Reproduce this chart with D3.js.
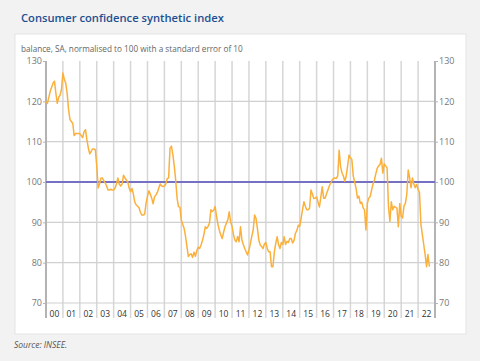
<!DOCTYPE html>
<html>
<head>
<meta charset="utf-8">
<script src="https://cdn.jsdelivr.net/npm/d3@7"></script>
<style>
  body { margin: 0; background: #f2f2f2; }
  svg { display: block; font-family: "Open Sans", sans-serif; }
</style>
</head>
<body>
<div id="chart"></div>
<script>
// monthly values, Jan 2000 .. Sep 2022
const firstYear = 2000;
const values = [
  120, 119.5, 121, 122.5, 123.5, 124.5, 125, 122, 119.5, 121, 121.5, 123,
  127, 125.5, 124.5, 122, 118, 115.5, 115, 114.5, 111.5, 112, 112, 112,
  112, 111.5, 111, 112.5, 113, 110.5, 108.5, 107, 107.5, 108.2, 108.2, 108,
  104, 98.5, 99.5, 101, 101, 100.3, 99.8, 99, 98, 98, 98.2, 98,
  98, 98.5, 99.5, 101, 99.5, 99, 99.5, 101.7, 101, 100.5, 100, 98.5,
  97.6, 98.4, 97, 95, 94.3, 94, 93.6, 92.5, 91.8, 91.8, 92, 94.7,
  96.5, 97.8, 97, 96, 94.6, 96.3, 96.8, 97.4, 98.5, 99.5, 99, 98.9,
  99, 99.5, 100.8, 101, 108.4, 108.9, 106.8, 104, 100.5, 96, 93.9, 93.8,
  90.6, 89.5, 88.5, 86.5, 84, 81.5, 82, 82.2, 81.3, 82.6, 81.6, 83,
  83.8, 83.5, 84.4, 85.5, 86.9, 88.9, 88.5, 89, 89.8, 93.1, 92.7, 93,
  93.9, 91.5, 89.5, 88, 86.9, 86, 87.5, 88.9, 89.8, 90.6, 92.6, 90.1,
  89, 87, 85.6, 85.2, 86.5, 85.2, 88.9, 85.6, 84.5, 83.5, 82.7, 81.9,
  83.1, 84.7, 86.5, 88.1, 91.8, 91, 88.5, 85.6, 84.4, 84, 83.5, 84.7,
  85, 83.5, 82.7, 82.7, 79, 79, 82.6, 84.8, 86.4, 84.5, 83.5, 85,
  84.5, 86.4, 84.5, 85.3, 85, 86, 86, 84.9, 85.5, 87.3, 88, 89.3,
  89, 91, 93.1, 95.1, 94, 93.1, 93.1, 93.5, 98, 97, 95.9, 96,
  96.3, 95, 93.8, 96.3, 98.8, 96, 96, 97, 98, 99, 99.7, 100.5,
  100.9, 101, 100.9, 101.5, 107.9, 103.8, 102.3, 101.5, 100.2, 101.5, 104, 106.7,
  106, 105.6, 101.5, 100, 98.4, 96, 96.5, 94.7, 95, 93.6, 93.1, 88.1,
  94.7, 96, 96.4, 98, 99.5, 100.5, 102, 103.4, 104, 104.3, 105.9, 102.2,
  104.5, 104, 103.5, 93.9, 90.2, 95.1, 93.1, 94, 93.7, 93.5, 88.9, 94.7,
  91.5, 91.1, 94, 94.7, 97, 103, 101, 98.6, 101, 99.5, 98.6, 99.4,
  98.2, 97.4, 89.5, 87, 84.5, 82, 79, 82, 79
];
const yearLabels = ["00","01","02","03","04","05","06","07","08","09","10","11",
  "12","13","14","15","16","17","18","19","20","21","22"];
const yTicks = [70, 80, 90, 100, 110, 120, 130];
const gridValues = [80, 90, 110, 120];
const refValue = 100;

const W = 480, H = 361;
const plotL = 46, plotR = 435, plotT = 61, plotB = 303;

const svg = d3.select('#chart').append('svg')
  .attr('width', W)
  .attr('height', H);

svg.append('rect').attr('width', W).attr('height', H).attr('fill', '#f2f2f2');
svg.append('rect')
  .attr('x', 15).attr('y', 34).attr('width', 451).attr('height', 300)
  .attr('fill', '#fff').attr('stroke', '#e4e4e4').attr('stroke-width', 1);

svg.append('text')
  .attr('x', 21).attr('y', 21.5)
  .attr('font-size', 11.2).attr('font-weight', 600)
  .attr('fill', '#1d4f91')
  .text('Consumer confidence synthetic index');

svg.append('text')
  .attr('x', 21).attr('y', 52)
  .attr('font-size', 8.2).attr('fill', '#666')
  .text('balance, SA, normalised to 100 with a standard error of 10');

svg.append('text')
  .attr('x', 14).attr('y', 348)
  .attr('font-size', 8.5).attr('font-style', 'italic').attr('fill', '#555')
  .text('Source: INSEE.');

const x = d3.scaleLinear()
  .domain([firstYear, firstYear + yearLabels.length])
  .range([plotL, plotR]);
const y = d3.scaleLinear().domain([70, 130]).range([plotB, plotT]);

// vertical year gridlines
const years = d3.range(firstYear + 1, firstYear + yearLabels.length);
svg.append('g').selectAll('line').data(years).join('line')
  .attr('x1', d => x(d)).attr('x2', d => x(d))
  .attr('y1', plotT).attr('y2', plotB + 15)
  .attr('stroke', '#d6d6d6').attr('stroke-width', 1.5);

// horizontal gridlines
svg.append('g').selectAll('line').data(gridValues).join('line')
  .attr('x1', plotL).attr('x2', plotR)
  .attr('y1', d => y(d)).attr('y2', d => y(d))
  .attr('stroke', '#d0d0d0').attr('stroke-width', 1.2);

svg.append('line')
  .attr('x1', plotL).attr('x2', plotR)
  .attr('y1', plotB).attr('y2', plotB)
  .attr('stroke', '#d0d0d0').attr('stroke-width', 1.2);

// axes
const yLeft = d3.axisLeft(y).tickValues(yTicks).tickSize(3).tickPadding(1);
const yRight = d3.axisRight(y).tickValues(yTicks).tickSize(3).tickPadding(1);

const gl = svg.append('g').attr('transform', `translate(${plotL},0)`).call(yLeft);
const gr = svg.append('g').attr('transform', `translate(${plotR},0)`).call(yRight);
[gl, gr].forEach(g => {
  g.select('.domain').attr('stroke', '#b3b3b3').attr('stroke-width', 2)
    .attr('d', `M0,${plotT}V${plotB + 15}`);
  g.selectAll('.tick line').attr('stroke', '#b3b3b3');
  g.selectAll('.tick text').attr('fill', '#777').attr('font-size', 9)
    .attr('font-family', '"Open Sans", sans-serif');
});

// year labels
svg.append('g').selectAll('text').data(yearLabels).join('text')
  .attr('x', (d, i) => x(firstYear + i + 0.5))
  .attr('y', plotB + 14)
  .attr('text-anchor', 'middle')
  .attr('font-size', 8.5).attr('fill', '#333')
  .text(d => d);

// reference line at 100
svg.append('line')
  .attr('x1', plotL).attr('x2', plotR)
  .attr('y1', y(refValue)).attr('y2', y(refValue))
  .attr('stroke', '#7570c2').attr('stroke-width', 2);

// series
const line = d3.line()
  .x((d, i) => x(firstYear + i / 12))
  .y(d => y(d));

svg.append('path')
  .datum(values)
  .attr('d', line)
  .attr('fill', 'none')
  .attr('stroke', '#fbb03b')
  .attr('stroke-width', 1.5)
  .attr('stroke-linejoin', 'round');
</script>
</body>
</html>
